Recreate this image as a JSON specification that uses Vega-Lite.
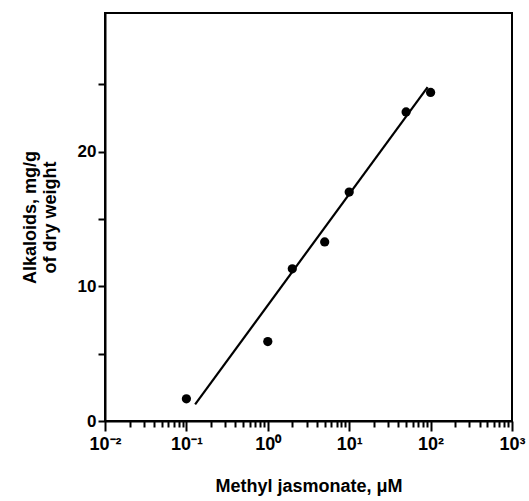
{
  "$schema": "https://vega.github.io/schema/vega-lite/v6.json",
  "width": 407,
  "height": 408,
  "autosize": {"type": "none"},
  "padding": {"left": 105, "top": 13, "right": 17, "bottom": 80},
  "background": "white",
  "config": {
    "view": {"stroke": "black", "strokeWidth": 2},
    "font": "Liberation Sans",
    "axis": {"grid": false, "domainColor": "black", "domainWidth": 2, "tickColor": "black", "tickWidth": 2, "labelColor": "black", "titleColor": "black", "labelFont": "Liberation Sans", "titleFont": "Liberation Sans"}
  },
  "datasets": {
    "obs": [
      {"conc": 0.1, "alk": 1.65},
      {"conc": 1, "alk": 5.9},
      {"conc": 2, "alk": 11.3},
      {"conc": 5, "alk": 13.3},
      {"conc": 10, "alk": 17.0},
      {"conc": 50, "alk": 22.95},
      {"conc": 100, "alk": 24.4}
    ],
    "fit": [
      {"conc": 0.128, "alk": 1.23},
      {"conc": 92, "alk": 24.8}
    ]
  },
  "layer": [
    {
      "data": {"name": "fit"},
      "mark": {"type": "line", "color": "black", "strokeWidth": 2.2},
      "encoding": {
        "x": {"field": "conc", "type": "quantitative"},
        "y": {"field": "alk", "type": "quantitative"}
      }
    },
    {
      "data": {"name": "obs"},
      "mark": {"type": "point", "filled": true, "color": "black", "opacity": 1, "size": 85},
      "encoding": {
        "x": {
          "field": "conc", "type": "quantitative",
          "scale": {"type": "log", "domain": [0.01, 1000], "nice": false},
          "axis": {
            "title": "Methyl jasmonate, μM",
            "titleFontSize": 18, "titleFontWeight": "bold", "titlePadding": 24,
            "labelFontSize": 18, "labelFontWeight": "bold", "labelPadding": 4,
            "labelOverlap": false, "labelFlush": false, "labelBound": false,
            "values": [0.01,0.02,0.03,0.04,0.05,0.06,0.07,0.08,0.09,0.1,0.2,0.3,0.4,0.5,0.6,0.7,0.8,0.9,1,2,3,4,5,6,7,8,9,10,20,30,40,50,60,70,80,90,100,200,300,400,500,600,700,800,900,1000],
            "labelExpr": "datum.value == 0.01 ? '10⁻²' : datum.value == 0.1 ? '10⁻¹' : datum.value == 1 ? '10⁰' : datum.value == 10 ? '10¹' : datum.value == 100 ? '10²' : datum.value == 1000 ? '10³' : ''",
            "tickSize": {"condition": {"test": "indexof([0.01,0.1,1,10,100,1000], datum.value) >= 0", "value": 10}, "value": 6}
          }
        },
        "y": {
          "field": "alk", "type": "quantitative",
          "scale": {"domain": [0, 30.3], "nice": false},
          "axis": {
            "title": ["Alkaloids, mg/g", "of dry weight"],
            "titleFontSize": 18, "titleFontWeight": "bold", "titlePadding": 18,
            "labelFontSize": 17, "labelFontWeight": "bold", "labelPadding": 2,
            "values": [0, 5, 10, 15, 20, 25],
            "labelExpr": "datum.value % 10 == 0 ? datum.label : ''",
            "tickSize": 7
          }
        }
      }
    }
  ]
}
